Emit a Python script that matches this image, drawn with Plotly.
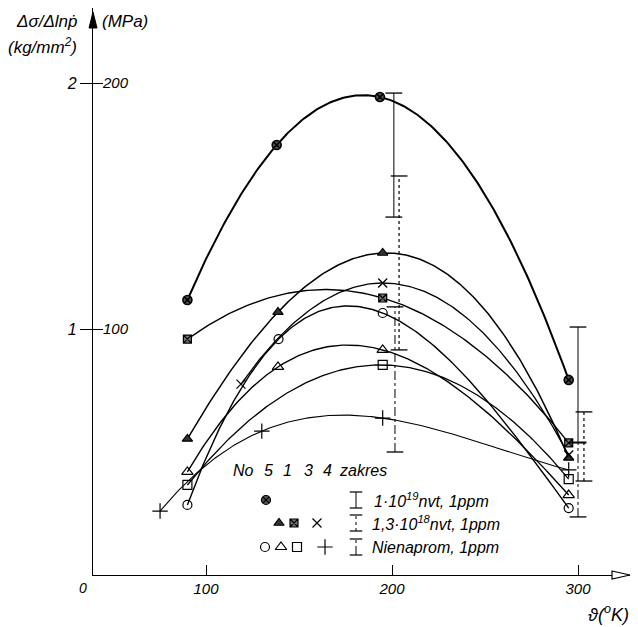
import numpy as np
import plotly.graph_objects as go

# ---------------- data ----------------
# temperature (K) and  d(sigma)/d(ln p)  (MPa)
s5_x = [90, 138, 193.5, 295]            # 1e19 nvt, No 5  (circle with cross)
s5_y = [111.8, 174.8, 194.3, 79.3]
s1i_x = [90, 138.7, 195, 295]           # 1.3e18 nvt, No 1 (filled triangle)
s1i_y = [55.3, 106.9, 130.9, 47.6]
s3i_x = [90, 195, 295]                  # 1.3e18 nvt, No 3 (hatched square)
s3i_y = [95.9, 112.6, 53.7]
s4i_x = [118.8, 195, 295]               # 1.3e18 nvt, No 4 (x)
s4i_y = [77.6, 118.7, 48.8]
s5u_x = [90, 139, 195, 295]             # unirradiated, No 5 (open circle)
s5u_y = [28.5, 95.9, 106.5, 27.2]
s1u_x = [90, 138.7, 195, 295]           # unirradiated, No 1 (open triangle)
s1u_y = [41.9, 84.6, 91.5, 32.5]
s3u_x = [90, 195, 295]                  # unirradiated, No 3 (open square)
s3u_y = [36.6, 85.4, 39.0]
s4u_x = [75.3, 130, 195, 295]           # unirradiated, No 4 (+)
s4u_y = [26.0, 58.5, 63.8, 42.7]

# scatter ranges ("zakres")
bar_a_x = [201, 300]; bar_a_lo = [145.5, 54.0]; bar_a_hi = [195.9, 100.8]
bar_b_x = [203.8, 303.2]; bar_b_lo = [91.5, 38.2]; bar_b_hi = [162.2, 66.3]
bar_c_x = [201.6, 300]; bar_c_lo = [50.0, 23.6]; bar_c_hi = [109.0, 53.7]

x_ticks = [100, 200, 300]
y_ticks = [100, 200]
y_ticks_left = ["1", "2"]
y_ticks_right = ["100", "200"]

# ---------------- helpers: pixel -> data (for legend glyphs only) ----------------
def kx(px):
    return 100 + (px - 206) / 1.86

def my(py):
    return (575 - py) / 2.46

FONT = "Liberation Sans"
fig = go.Figure()

def curve(xs, ys, width=1.4):
    p = np.polynomial.Polynomial.fit(xs, ys, len(xs) - 1)
    xx = np.linspace(min(xs), max(xs), 200)
    fig.add_trace(go.Scatter(x=xx, y=p(xx), mode="lines",
                             line=dict(color="black", width=width),
                             hoverinfo="skip", showlegend=False))

def pts(xs, ys, symbol, size=8, fill="white", lw=1.2):
    fig.add_trace(go.Scatter(x=xs, y=ys, mode="markers",
                             marker=dict(symbol=symbol, size=size, color=fill,
                                         line=dict(color="black", width=lw)),
                             showlegend=False))

series = [
    (s5_x, s5_y, "circle-x", 9, "#555", 1.6, 2.0),
    (s1i_x, s1i_y, "triangle-up", 9, "#333", 1.2, 1.5),
    (s3i_x, s3i_y, "square-x", 8, "#777", 1.2, 1.4),
    (s4i_x, s4i_y, "x-thin-open", 9, "black", 1.3, 1.3),
    (s5u_x, s5u_y, "circle-open", 9, "black", 1.2, 1.4),
    (s1u_x, s1u_y, "triangle-up-open", 10, "black", 1.2, 1.4),
    (s3u_x, s3u_y, "square-open", 9, "black", 1.2, 1.3),
    (s4u_x, s4u_y, "cross-thin-open", 11, "black", 1.2, 1.1),
]
for xs, ys, sym, sz, fc, mlw, clw in series:
    curve(xs, ys, clw)
for xs, ys, sym, sz, fc, mlw, clw in series:
    pts(xs, ys, sym, sz, fc, mlw)

def rbar(xs, lo, hi, dash, width=1.1):
    for x, a, b in zip(xs, lo, hi):
        fig.add_trace(go.Scatter(x=[x, x], y=[a, b], mode="lines+markers",
                                 line=dict(color="black", width=width, dash=dash),
                                 marker=dict(symbol="line-ew-open", size=12,
                                             line=dict(color="black", width=1.3)),
                                 hoverinfo="skip", showlegend=False))

rbar(bar_a_x, bar_a_lo, bar_a_hi, "solid", 1.0)
rbar(bar_b_x, bar_b_lo, bar_b_hi, "dot", 1.2)
rbar(bar_c_x, bar_c_lo, bar_c_hi, "dashdot", 1.0)

# ---------------- legend block ----------------
rows_py = [500, 523, 547]
leg = [
    [(266, "circle-x", 9, "#555")],
    [(279, "triangle-up", 9, "#333"), (294, "square-x", 8, "#777"), (317, "x-thin-open", 9, "black")],
    [(265, "circle-open", 9, "black"), (281, "triangle-up-open", 10, "black"),
     (297, "square-open", 9, "black"), (325, "cross-thin-open", 11, "black")],
]
for py, row in zip(rows_py, leg):
    for px, sym, sz, fc in row:
        pts([kx(px)], [my(py)], sym, sz, fc, 1.2)
for py, dash in zip(rows_py, ["solid", "dot", "dashdot"]):
    fig.add_trace(go.Scatter(x=[kx(356), kx(356)], y=[my(py + 8), my(py - 8)],
                             mode="lines+markers",
                             line=dict(color="black", width=1.0, dash=dash),
                             marker=dict(symbol="line-ew-open", size=9,
                                         line=dict(color="black", width=1.2)),
                             hoverinfo="skip", showlegend=False))

ann = []
def text(x, y, t, size=16, xanchor="left", xref="paper", yref="paper"):
    ann.append(dict(x=x, y=y, xref=xref, yref=yref, text=t, showarrow=False,
                    xanchor=xanchor, yanchor="middle",
                    font=dict(family=FONT, size=size, color="black", style="italic")))

W, H = 638, 627
L, R, T, B = 93, 8, 8, 52
pw, ph = W - L - R, H - T - B
def px2p(px): return (px - L) / pw
def py2p(py): return (H - B - py) / ph

text(px2p(372), py2p(500), "1·10<sup>19</sup>nvt, 1ppm", 16)
text(px2p(370), py2p(523), "1,3·10<sup>18</sup>nvt, 1ppm", 16)
text(px2p(370), py2p(547), "Nienaprom, 1ppm", 16)
for px, t in [(243, "No"), (268, "5"), (287, "1"), (308, "3"), (327, "4"), (337, "zakres")]:
    text(px2p(px), py2p(470), t, 16, xanchor="center" if t != "zakres" else "left")

# axis titles
text(px2p(14), py2p(21), "Δσ/Δln<i>ṗ</i>", 17)
text(px2p(100), py2p(21), "(MPa)", 17)
text(px2p(6), py2p(46), "(kg/mm<sup>2</sup>)", 17)
text(px2p(631), py2p(613), "ϑ(<sup>o</sup>K)", 18, xanchor="right")
text(px2p(83), py2p(588), "0", 14, xanchor="center")

# arrowheads on the axes (decoration)
shapes = [
    dict(type="path", xref="paper", yref="paper",
         path=f"M {px2p(612)} {py2p(571)} L {px2p(630)} {py2p(575)} L {px2p(612)} {py2p(579)} Z",
         line=dict(color="black", width=1.2), fillcolor="white"),
    dict(type="path", xref="paper", yref="paper",
         path=f"M {px2p(89)} {py2p(28)} L {px2p(93)} {py2p(12)} L {px2p(97)} {py2p(28)} Z",
         line=dict(color="black", width=1.0), fillcolor="black"),
]

fig.update_layout(
    width=W, height=H,
    margin=dict(l=L, r=R, t=T, b=B),
    paper_bgcolor="white", plot_bgcolor="white",
    font=dict(family=FONT, size=15, color="black", style="italic"),
    annotations=ann, shapes=shapes,
    xaxis=dict(range=[kx(L), kx(W - R)], tickvals=x_ticks, ticks="inside", ticklen=10,
               tickwidth=1.3, tickcolor="black", showgrid=False, zeroline=False,
               showline=True, linecolor="black", linewidth=1.4,
               tickfont=dict(family=FONT, size=15, color="black", style="italic")),
    yaxis=dict(range=[0, my(T)], tickvals=y_ticks, ticktext=y_ticks_left,
               ticks="outside", ticklen=12, tickwidth=1.3, tickcolor="black",
               showgrid=False, zeroline=False, showline=True, linecolor="black",
               linewidth=1.4,
               tickfont=dict(family=FONT, size=16, color="black", style="italic")),
    yaxis2=dict(range=[0, my(T)], overlaying="y", anchor="x", side="left",
                tickvals=y_ticks, ticktext=y_ticks_right, ticks="inside", ticklen=10,
                tickwidth=1.3, tickcolor="black", ticklabelposition="inside",
                showgrid=False, zeroline=False, showline=False,
                tickfont=dict(family=FONT, size=15, color="black", style="italic")),
)
# invisible trace to activate yaxis2
fig.add_trace(go.Scatter(x=[None], y=[None], yaxis="y2", showlegend=False))

fig.write_html("out.html")
